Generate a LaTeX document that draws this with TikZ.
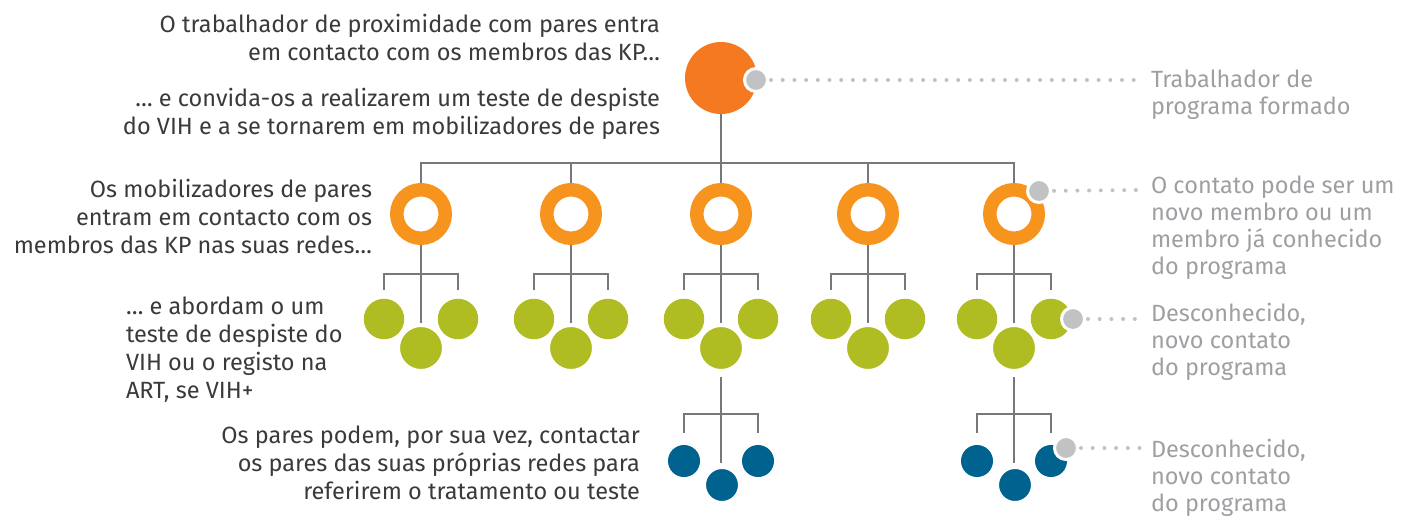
\documentclass[tikz,border=0pt]{standalone}
\usepackage{fontspec}
\setmainfont{Fira Sans}
\usetikzlibrary{backgrounds}
\definecolor{topor}{HTML}{F47920}
\definecolor{ringor}{HTML}{F7941D}
\definecolor{grn}{HTML}{AFBD22}
\definecolor{blu}{HTML}{00628F}
\definecolor{linegray}{HTML}{77787B}
\definecolor{dotgray}{HTML}{C1C2C4}
\definecolor{txtdark}{HTML}{3A3A3C}
\definecolor{txtgray}{HTML}{9D9FA2}
\tikzset{
  ltext/.style={font=\fontsize{23.5}{28}\selectfont, text=txtdark, inner sep=0pt, outer sep=0pt},
  rtext/.style={font=\fontsize{23.5}{27}\selectfont, text=txtgray, inner sep=0pt, outer sep=0pt, align=left, anchor=north west},
  topcirc/.style={circle, fill=topor, minimum size=72pt, inner sep=0pt, outer sep=0pt},
  ringnode/.style={circle, draw=ringor, line width=13.5pt, minimum size=48.5pt, inner sep=0pt, outer sep=0pt},
  gside/.style={circle, fill=grn, minimum size=40.5pt, inner sep=0pt, outer sep=0pt},
  gmid/.style={circle, fill=grn, draw=white, line width=4pt, minimum size=46pt, inner sep=0pt, outer sep=0pt},
  bside/.style={circle, fill=blu, minimum size=32pt, inner sep=0pt, outer sep=0pt},
  bmid/.style={circle, fill=blu, draw=white, line width=2pt, minimum size=34pt, inner sep=0pt, outer sep=0pt},
  graydot/.style={circle, fill=dotgray, draw=white, line width=3pt, minimum size=23pt, inner sep=0pt, outer sep=0pt},
  conn/.style={draw=linegray, line width=2.7pt},
  dotline/.style={draw=dotgray, line width=4pt, line cap=round, dash pattern=on 0pt off 11.7pt, shorten <=15pt},
}
\begin{document}
\begin{tikzpicture}[x=1pt,y=-1pt]
\useasboundingbox (0,0) rectangle (1403,515);

% top node
\node[topcirc] (top) at (721,78) {};
\node[graydot] (dtop) at (756,80) {};
\coordinate (bus) at (721,163);

% columns
\foreach \i/\x in {1/421,2/571,3/721,4/868,5/1014}{
  \node[ringnode] (r\i) at (\x,214) {};
  \coordinate (gh\i) at (\x,274);
  \node[gside] (ga\i) at (\x-37,319) {};
  \node[gside] (gc\i) at (\x+37,319) {};
  \node[gmid] (gb\i) at (\x,348) {};
}
\foreach \i/\x in {3/721,5/1014}{
  \coordinate (bh\i) at (\x,414);
  \node[bside] (ba\i) at (\x-37,461) {};
  \node[bside] (bc\i) at (\x+37,461) {};
  \node[bmid] (bb\i) at (\x+1,485) {};
}
\node[graydot] (dring) at (1039,191) {};
\node[graydot] (dgrn) at (1073,319) {};
\node[graydot] (dblu) at (1066,448) {};

\coordinate (etop) at (1140,80);
\coordinate (ering) at (1137,190);
\coordinate (egrn) at (1136,319);
\coordinate (eblu) at (1140,448);

\begin{scope}[on background layer]
  \draw[conn] (top) -- (bus);
  \draw[conn] (r1.north) |- (bus);
  \draw[conn] (r5.north) |- (bus);
  \foreach \i in {2,3,4}{ \draw[conn] (r\i.north) -- (r\i.north |- bus); }
  \foreach \i in {1,...,5}{
    \draw[conn, shorten >=2pt] (r\i) -- (gb\i.north);
    \draw[conn, shorten <=9pt] (ga\i.north) |- (gh\i);
    \draw[conn, shorten <=9pt] (gc\i.north) |- (gh\i);
  }
  \foreach \i in {3,5}{
    \draw[conn, shorten <=6pt] (gb\i.south) -- (bh\i);
    \draw[conn, shorten >=5pt] (bh\i) -- (bb\i.north -| bh\i);
    \draw[conn, shorten <=12pt] (ba\i.north) |- (bh\i);
    \draw[conn, shorten <=12pt] (bc\i.north) |- (bh\i);
  }
\end{scope}

\draw[dotline] (dtop.center) -- (etop);
\draw[dotline] (dring.center) -- (ering);
\draw[dotline] (dgrn.center) -- (egrn);
\draw[dotline] (dblu.center) -- (eblu);

% left texts
\node[ltext, align=right, anchor=north east] (tA) at (660,14) {O trabalhador de proximidade com pares entra\\em contacto com os membros das KP…};
\node[ltext, align=right, anchor=north east] (tB) at (660,88) {… e convida-os a realizarem um teste de despiste\\do VIH e a se tornarem em mobilizadores de pares};
\node[ltext, align=right, anchor=north east] (tC) at (372,179) {Os mobilizadores de pares\\entram em contacto com os\\membros das KP nas suas redes…};
\node[ltext, align=left, anchor=north west] (tD) at (126,297) {… e abordam o um\\teste de despiste do\\VIH ou o registo na\\ART, se VIH+};
\node[ltext, align=right, anchor=north east] (tE) at (640,426) {Os pares podem, por sua vez, contactar\\os pares das suas próprias redes para\\referirem o tratamento ou teste};

% right texts
\node[rtext] (lA) at (1151,70) {Trabalhador de\\programa formado};
\node[rtext] (lB) at (1151,176) {O contato pode ser um\\novo membro ou um\\membro já conhecido\\do programa};
\node[rtext] (lC) at (1151,303) {Desconhecido,\\novo contato\\do programa};
\node[rtext] (lD) at (1151,439) {Desconhecido,\\novo contato\\do programa};
\end{tikzpicture}
\end{document}
